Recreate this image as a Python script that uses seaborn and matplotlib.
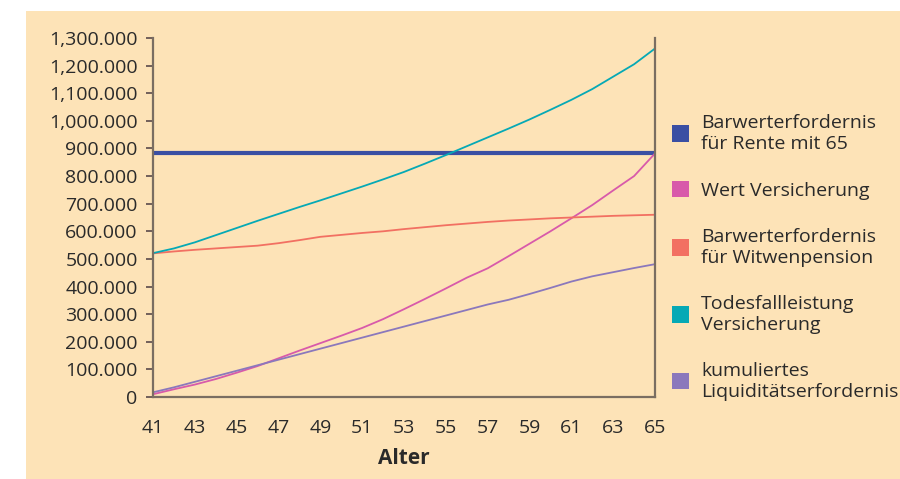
import matplotlib
matplotlib.use("Agg")
import matplotlib.pyplot as plt
from matplotlib.patches import Rectangle, Patch
from matplotlib.ticker import FuncFormatter
import seaborn as sns
import pandas as pd

ages = list(range(41, 66))
rente65 = [884000] * 25
wert_vers = [10, 28, 45, 65, 88, 112, 140, 168, 195, 222, 250, 282, 318, 355, 393,
             432, 466, 510, 555, 600, 647, 695, 748, 800, 882]
witwen = [520, 527, 533, 538, 543, 548, 557, 568, 580, 587, 594, 600, 608, 615, 622,
          628, 634, 639, 643, 647, 650, 653, 656, 658, 660]
todesfall = [521, 538, 560, 586, 612, 638, 663, 688, 712, 737, 762, 788, 815, 845, 876,
             908, 940, 972, 1005, 1040, 1076, 1115, 1160, 1205, 1262]
kumuliert = [17, 35, 55, 75, 95, 115, 135, 155, 175, 195, 215, 235, 255, 275, 295,
             315, 335, 352, 373, 395, 418, 437, 452, 467, 481]

labels = ["Barwerterfordernis\nfür Rente mit 65", "Wert Versicherung",
          "Barwerterfordernis\nfür Witwenpension", "Todesfallleistung\nVersicherung",
          "kumuliertes\nLiquiditätserfordernis"]
colors = ["#3A4FA3", "#D85AAA", "#F27062", "#06A9B5", "#8B78BC"]
series = [rente65, [v * 1000 for v in wert_vers], [v * 1000 for v in witwen],
          [v * 1000 for v in todesfall], [v * 1000 for v in kumuliert]]

rows = []
for lab, vals in zip(labels, series):
    for a, v in zip(ages, vals):
        rows.append({"Alter": a, "Wert": v, "Serie": lab})
df = pd.DataFrame(rows)

sns.set_style("white")
plt.rcParams["font.family"] = ["Open Sans", "DejaVu Sans"]
txt = "#2a2a2a"
bg = "#FDE3B7"
spine_c = "#7a6e62"

fig = plt.figure(figsize=(9, 4.79), dpi=100, facecolor="white")
fig.add_artist(Rectangle((26 / 900, 0), 1 - 26 / 900, (479 - 11) / 479,
                         transform=fig.transFigure, facecolor=bg, edgecolor="none", zorder=-10))
ax = fig.add_axes([153 / 900, 1 - 397 / 479, (655 - 153) / 900, (397 - 38) / 479])
ax.set_facecolor("none")

sns.lineplot(data=df, x="Alter", y="Wert", hue="Serie", hue_order=labels,
             palette=dict(zip(labels, colors)), ax=ax, legend=False, linewidth=1.3)
for line in ax.get_lines():
    if line.get_color().lower() == colors[0].lower():
        line.set_linewidth(3.0)

ax.set_xlim(41, 65)
ax.set_ylim(0, 1300000)
ax.set_xticks(list(range(41, 66, 2)))
ax.set_yticks(list(range(0, 1300001, 100000)))

def fmt(v, pos):
    s = f"{int(round(v)):,}"
    if "," in s:
        i = s.rfind(",")
        s = s[:i] + "." + s[i + 1:]
    return s

ax.yaxis.set_major_formatter(FuncFormatter(fmt))
ax.tick_params(axis="y", length=5, width=1.2, color="#5a4a4a", pad=6,
               labelsize=14, labelcolor=txt, direction="out", left=True)
ax.tick_params(axis="x", length=0, pad=16, labelsize=14, labelcolor=txt)
ax.set_xticks([41, 65], minor=True)
ax.tick_params(axis="x", which="minor", length=5, width=1.5, color=spine_c, bottom=True)

for side in ["left", "bottom", "right"]:
    ax.spines[side].set_visible(True)
    ax.spines[side].set_color(spine_c)
    ax.spines[side].set_linewidth(1.6)
ax.spines["top"].set_visible(False)

ax.set_xlabel("Alter", fontsize=15, fontweight="bold", color=txt, labelpad=8)
ax.set_ylabel("")

handles = [Patch(facecolor=c, edgecolor="none") for c in colors]
leg = fig.legend(handles, labels, loc="upper left", bbox_to_anchor=(664 / 900, 1 - 106 / 479),
                 frameon=False, fontsize=14, handlelength=0.9, handleheight=0.9,
                 handletextpad=0.6, labelspacing=1.45, labelcolor=txt, borderaxespad=0)

fig.savefig("out.png", dpi=100, facecolor="white")
